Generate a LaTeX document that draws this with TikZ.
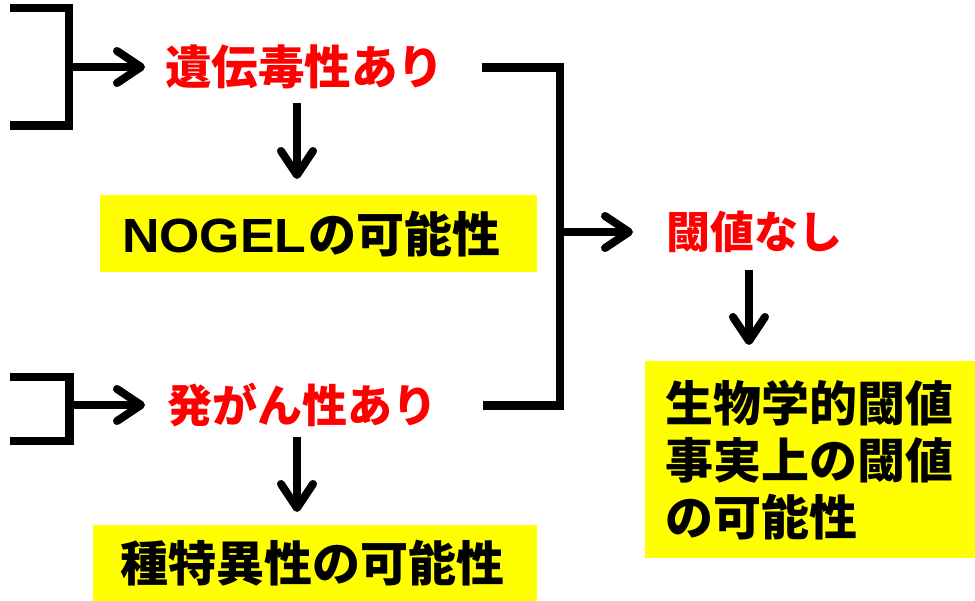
\documentclass[tikz,border=0pt]{standalone}
\usepackage{fontspec}
\setmainfont{Liberation Sans}
\newfontfamily\jp{Noto Sans CJK JP}
\usetikzlibrary{arrows.meta}
\definecolor{hlyellow}{HTML}{FFFF00}
\definecolor{hlred}{HTML}{FF0000}
\tikzset{
  bracket/.style={line width=8.5pt, line join=miter},
  arr/.style={line width=8pt, -{Straight Barb[length=24pt,width=32pt,round]}},
  redlabel/.style={text=hlred, font=\jp\bfseries, inner ysep=13pt, anchor=west},
  ybox/.style={fill=hlyellow, font=\bfseries\fontsize{48}{57}\selectfont, anchor=north west, inner ysep=0pt, align=left},
}
\begin{document}
\begin{tikzpicture}[x=1pt,y=-1pt]
\useasboundingbox (0,0) rectangle (975,601);
% red labels
\node[redlabel, inner xsep=20pt] (geno) at (145,67) {\fontsize{46.5}{50}\selectfont 遺伝毒性あり};
\node[redlabel, inner xsep=22pt] (carc) at (145,405) {\fontsize{45}{50}\selectfont 発がん性あり};
\node[redlabel, inner xsep=33pt] (thr) at (633,232) {\fontsize{44}{50}\selectfont 閾値なし};
% yellow boxes
\node[ybox, minimum width=437pt, minimum height=77pt, text width=393pt, inner xsep=22pt] (nogel) at (100,195) {\scalebox{1.08}[1]{NOGEL}\hspace{2pt}{\jp の可能性}};
\node[ybox, minimum width=444pt, minimum height=76pt, text width=390pt, inner xsep=27pt] (spec) at (93,525) {\jp 種特異性の可能性};
\node[ybox, minimum width=330pt, minimum height=197pt, text width=290pt, inner xsep=20pt] (bio) at (645,361) {\jp 生物学的閾値\\\jp 事実上の閾値\\\jp の可能性};
% left brackets
\coordinate (a1) at (10,8);
\coordinate (a2) at (69,8);
\coordinate (a3) at (69,125.5);
\coordinate (a4) at (10,125.5);
\coordinate (am) at (69,67);
\draw[bracket] (a1) -- (a2) -- (a3) -- (a4);
\draw[arr] (am) -- (geno.west);
\coordinate (b1) at (10,377);
\coordinate (b2) at (69.5,377);
\coordinate (b3) at (69.5,441);
\coordinate (b4) at (10,441);
\coordinate (bm) at (69.5,405);
\draw[bracket] (b1) -- (b2) -- (b3) -- (b4);
\draw[arr] (bm) -- (carc.west);
% right bracket
\coordinate (r1) at (482,67.5);
\coordinate (r2) at (560,67.5);
\coordinate (r3) at (560,405.5);
\coordinate (r4) at (483,405.5);
\coordinate (rm) at (560,232);
\draw[bracket] (r1) -- (r2) -- (r3) -- (r4);
\draw[arr] (rm) -- (thr.west);
% down arrows
\coordinate (gd) at (297,103);
\coordinate (cd) at (297,437);
\coordinate (td) at (749,270);
\draw[arr, shorten >=16pt] (gd) -- (gd |- nogel.north);
\draw[arr, shorten >=13pt] (cd) -- (cd |- spec.north);
\draw[arr, shorten >=16pt] (td) -- (td |- bio.north);
\end{tikzpicture}
\end{document}
